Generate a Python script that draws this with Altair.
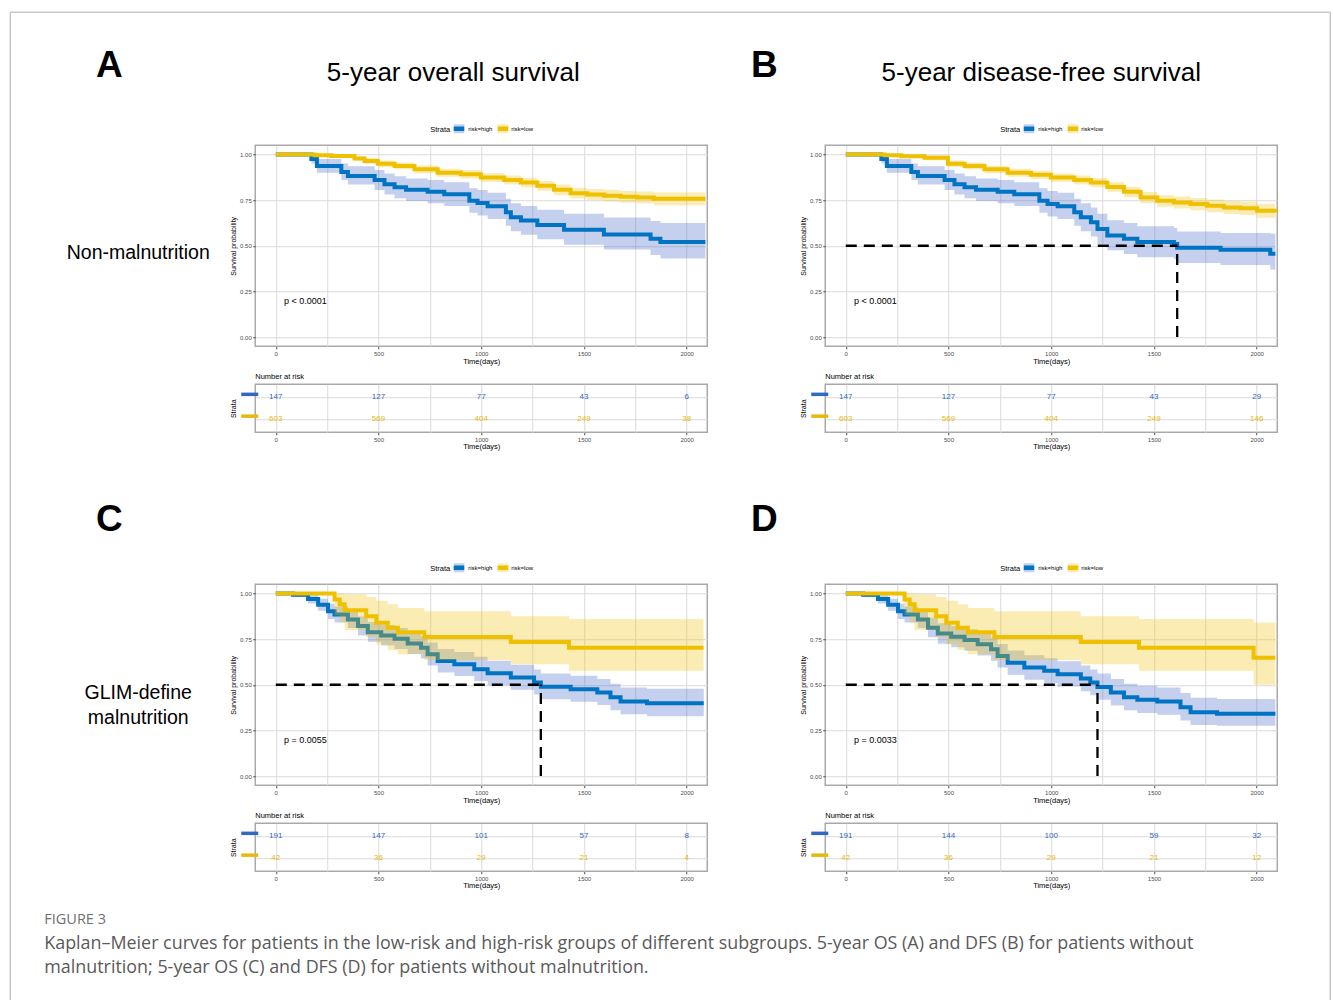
import altair as alt
import pandas as pd

# ---------------- data ----------------
STRATA = ["risk=high", "risk=low"]
LINE_COLORS = ["#0073C2", "#EFC000"]
BAND_COLORS = ["#3D62C8", "#EFC000"]
TABLE_COLORS = ["#3069C3", "#E8B80A"]

GRID_X = [0, 250, 500, 750, 1000, 1250, 1500, 1750, 2000]
GRID_Y = [0, 0.125, 0.25, 0.375, 0.5, 0.625, 0.75, 0.875, 1.0]
RISK_TIMES = [0, 500, 1000, 1500, 2000]

# Panel A: 5-year OS, non-malnutrition
A_high_t = [0, 173, 200, 319, 351, 481, 529, 578, 634, 739, 820, 942, 982, 1031, 1120, 1144, 1193, 1273, 1403, 1597, 1824, 1872, 2091]
A_high_s = [1.0, 0.975, 0.937, 0.904, 0.882, 0.86, 0.837, 0.82, 0.806, 0.795, 0.782, 0.746, 0.734, 0.716, 0.683, 0.656, 0.638, 0.614, 0.587, 0.562, 0.538, 0.52, 0.52]
A_high_up = [1.0, 1.0, 0.975, 0.95, 0.935, 0.915, 0.895, 0.88, 0.868, 0.86, 0.848, 0.815, 0.805, 0.79, 0.757, 0.733, 0.717, 0.697, 0.675, 0.655, 0.635, 0.625, 0.625]
A_high_lo = [1.0, 0.95, 0.90, 0.86, 0.835, 0.805, 0.78, 0.76, 0.745, 0.733, 0.718, 0.68, 0.666, 0.647, 0.61, 0.58, 0.56, 0.535, 0.505, 0.48, 0.45, 0.43, 0.43]
A_low_t = [0, 189, 270, 383, 432, 497, 578, 675, 788, 901, 998, 1112, 1193, 1273, 1354, 1435, 1516, 1597, 1678, 1759, 1840, 2091]
A_low_s = [1.0, 0.995, 0.991, 0.978, 0.964, 0.949, 0.937, 0.918, 0.90, 0.891, 0.873, 0.86, 0.846, 0.828, 0.806, 0.788, 0.78, 0.774, 0.768, 0.764, 0.757, 0.757]
A_low_up = [1.0, 1.0, 1.0, 0.99, 0.98, 0.967, 0.956, 0.939, 0.922, 0.914, 0.897, 0.885, 0.872, 0.855, 0.835, 0.818, 0.811, 0.806, 0.8, 0.797, 0.792, 0.792]
A_low_lo = [1.0, 0.989, 0.982, 0.965, 0.948, 0.931, 0.918, 0.897, 0.878, 0.868, 0.849, 0.835, 0.82, 0.801, 0.777, 0.758, 0.749, 0.742, 0.736, 0.731, 0.722, 0.722]
A_risk_high = [147, 127, 77, 43, 6]
A_risk_low = [603, 569, 404, 249, 38]

# Panel B: 5-year DFS, non-malnutrition
B_high_t = [0, 173, 200, 319, 351, 481, 529, 578, 634, 739, 820, 942, 982, 1031, 1112, 1144, 1193, 1225, 1273, 1354, 1419, 1597, 1613, 1824, 2066, 2091]
B_high_s = [1.0, 0.975, 0.937, 0.904, 0.882, 0.86, 0.837, 0.82, 0.806, 0.795, 0.782, 0.746, 0.728, 0.716, 0.683, 0.656, 0.629, 0.592, 0.556, 0.538, 0.52, 0.51, 0.489, 0.478, 0.456, 0.456]
B_high_up = [1.0, 1.0, 0.975, 0.95, 0.935, 0.915, 0.895, 0.88, 0.868, 0.86, 0.848, 0.815, 0.8, 0.79, 0.757, 0.733, 0.71, 0.675, 0.64, 0.625, 0.607, 0.597, 0.578, 0.57, 0.565, 0.565]
B_high_lo = [1.0, 0.95, 0.90, 0.86, 0.835, 0.805, 0.78, 0.76, 0.745, 0.733, 0.718, 0.68, 0.66, 0.647, 0.61, 0.58, 0.55, 0.51, 0.475, 0.455, 0.437, 0.427, 0.405, 0.395, 0.37, 0.37]
B_low_t = [0, 189, 270, 383, 497, 578, 675, 788, 901, 998, 1112, 1193, 1273, 1354, 1435, 1516, 1597, 1678, 1759, 1840, 1921, 2002, 2091]
B_low_s = [1.0, 0.995, 0.99, 0.982, 0.949, 0.937, 0.918, 0.90, 0.888, 0.873, 0.86, 0.846, 0.822, 0.795, 0.764, 0.746, 0.737, 0.728, 0.719, 0.71, 0.705, 0.692, 0.683]
B_low_up = [1.0, 1.0, 1.0, 0.994, 0.966, 0.955, 0.938, 0.921, 0.91, 0.896, 0.884, 0.871, 0.848, 0.823, 0.794, 0.777, 0.769, 0.761, 0.753, 0.745, 0.741, 0.73, 0.725]
B_low_lo = [1.0, 0.989, 0.982, 0.968, 0.931, 0.918, 0.897, 0.878, 0.865, 0.849, 0.835, 0.82, 0.795, 0.766, 0.733, 0.714, 0.704, 0.694, 0.684, 0.674, 0.668, 0.653, 0.64]
B_risk_high = [147, 127, 77, 43, 29]
B_risk_low = [603, 569, 404, 249, 146]

# Panel C: 5-year OS, GLIM-defined malnutrition
C_high_t = [0, 84, 157, 206, 254, 286, 351, 400, 448, 513, 578, 642, 707, 739, 788, 869, 966, 1031, 1144, 1257, 1290, 1435, 1565, 1629, 1678, 1807, 2083]
C_high_s = [1.0, 0.993, 0.969, 0.938, 0.902, 0.884, 0.857, 0.821, 0.788, 0.77, 0.752, 0.726, 0.703, 0.667, 0.63, 0.612, 0.585, 0.563, 0.54, 0.513, 0.489, 0.476, 0.458, 0.431, 0.409, 0.399, 0.399]
C_high_up = [1.0, 1.0, 0.99, 0.97, 0.943, 0.928, 0.905, 0.873, 0.843, 0.827, 0.81, 0.786, 0.765, 0.731, 0.696, 0.679, 0.653, 0.632, 0.61, 0.584, 0.561, 0.549, 0.532, 0.506, 0.485, 0.478, 0.478]
C_high_lo = [1.0, 0.98, 0.945, 0.905, 0.86, 0.84, 0.81, 0.77, 0.735, 0.715, 0.695, 0.668, 0.643, 0.605, 0.567, 0.548, 0.52, 0.497, 0.473, 0.446, 0.421, 0.407, 0.389, 0.361, 0.339, 0.328, 0.328]
C_low_t = [0, 286, 311, 335, 440, 489, 545, 594, 723, 1144, 1427, 2082]
C_low_s = [1.0, 0.966, 0.94, 0.908, 0.875, 0.839, 0.812, 0.788, 0.761, 0.734, 0.703, 0.703]
C_low_up = [1.0, 1.0, 1.0, 0.995, 0.98, 0.96, 0.94, 0.92, 0.902, 0.875, 0.86, 0.86]
C_low_lo = [1.0, 0.88, 0.84, 0.8, 0.76, 0.72, 0.69, 0.667, 0.636, 0.612, 0.576, 0.576]
C_risk_high = [191, 147, 101, 57, 8]
C_risk_low = [42, 36, 29, 21, 4]

# Panel D: 5-year DFS, GLIM-defined malnutrition
D_high_t = [0, 84, 157, 206, 254, 286, 351, 400, 448, 513, 578, 642, 707, 739, 788, 869, 966, 1031, 1144, 1190, 1225, 1290, 1354, 1419, 1516, 1629, 1678, 1807, 2091]
D_high_s = [1.0, 0.993, 0.969, 0.938, 0.902, 0.884, 0.857, 0.812, 0.78, 0.763, 0.745, 0.721, 0.694, 0.658, 0.621, 0.594, 0.576, 0.558, 0.534, 0.512, 0.488, 0.458, 0.431, 0.418, 0.408, 0.377, 0.35, 0.341, 0.341]
D_high_up = [1.0, 1.0, 0.99, 0.97, 0.943, 0.928, 0.905, 0.866, 0.837, 0.821, 0.804, 0.782, 0.757, 0.723, 0.688, 0.662, 0.645, 0.628, 0.605, 0.584, 0.561, 0.532, 0.506, 0.494, 0.485, 0.455, 0.429, 0.422, 0.422]
D_high_lo = [1.0, 0.98, 0.945, 0.905, 0.86, 0.84, 0.81, 0.76, 0.725, 0.705, 0.686, 0.66, 0.632, 0.594, 0.555, 0.527, 0.508, 0.49, 0.465, 0.442, 0.418, 0.387, 0.36, 0.346, 0.336, 0.304, 0.28, 0.275, 0.275]
D_low_t = [0, 286, 311, 335, 440, 489, 545, 594, 723, 1144, 1427, 1985, 2091]
D_low_s = [1.0, 0.966, 0.94, 0.908, 0.875, 0.839, 0.812, 0.788, 0.761, 0.734, 0.703, 0.648, 0.648]
D_low_up = [1.0, 1.0, 1.0, 0.995, 0.98, 0.96, 0.94, 0.92, 0.902, 0.875, 0.86, 0.84, 0.84]
D_low_lo = [1.0, 0.88, 0.84, 0.8, 0.76, 0.72, 0.69, 0.667, 0.636, 0.612, 0.576, 0.50, 0.50]
D_risk_high = [191, 144, 100, 59, 32]
D_risk_low = [42, 36, 29, 21, 12]

PVALS = ["p < 0.0001", "p < 0.0001", "p = 0.0055", "p = 0.0033"]
TITLES = ["5-year overall survival", "5-year disease-free survival"]
ROW_LABELS = [["Non-malnutrition"], ["GLIM-define", "malnutrition"]]
LETTERS = ["A", "B", "C", "D"]
CAPTION_HEAD = "FIGURE 3"
CAPTION_LINES = [
    "Kaplan\u2013Meier curves for patients in the low-risk and high-risk groups of different subgroups. 5-year OS (A) and DFS (B) for patients without",
    "malnutrition; 5-year OS (C) and DFS (D) for patients without malnutrition.",
]

# ---------------- styling ----------------
FONT = "Liberation Sans"
CAP_FONT = "Open Sans"
W, H, TH = 452, 201, 48
GRID_COLOR = "#dadada"
TXT_GREY = "#4d4d4d"

one_row = pd.DataFrame({"k": [0]})


def note(x, y, text, size, weight="normal", align="center", font=FONT, color="black"):
    return alt.Chart(one_row).mark_text(
        font=font, fontSize=size, fontWeight=weight, align=align, baseline="alphabetic", color=color
    ).encode(x=alt.value(x), y=alt.value(y), text=alt.value(text))


def frame_rule(x, y, x2=None, y2=None):
    enc = {"x": alt.value(x), "y": alt.value(y)}
    if x2 is not None:
        enc["x2"] = alt.value(x2)
    if y2 is not None:
        enc["y2"] = alt.value(y2)
    return alt.Chart(one_row).mark_rule(color="#c8c8c8", strokeWidth=1.5).encode(**enc)


def legend_layers():
    """Strata key drawn above the plot area (ggplot-style top legend)."""
    out = [note(175, -13.6, "Strata", 7.5, align="left")]
    key_x = [198.5, 242.5]
    lab_x = [213, 256]
    for i, s in enumerate(STRATA):
        out.append(alt.Chart(one_row).mark_rect(color=BAND_COLORS[i], opacity=0.3).encode(
            x=alt.value(key_x[i]), x2=alt.value(key_x[i] + 10.5), y=alt.value(-21), y2=alt.value(-12)))
        out.append(alt.Chart(one_row).mark_rule(color=LINE_COLORS[i], strokeWidth=4.5).encode(
            x=alt.value(key_x[i]), x2=alt.value(key_x[i] + 10.5), y=alt.value(-16.5)))
        out.append(note(lab_x[i], -14.2, s, 6, align="left"))
    return out


x_scale = alt.Scale(domain=[-100, 2100], nice=False, zero=False)
major_x = "datum.value % 500 === 0"


def x_axis(title_pad):
    return alt.Axis(
        values=GRID_X, format="d", labelExpr=f"{major_x} ? datum.label : ''",
        tickOpacity={"condition": {"test": major_x, "value": 1}, "value": 0},
        grid=True, gridColor=GRID_COLOR, gridWidth=1, domain=False,
        tickSize=2.5, tickColor=TXT_GREY, labelFontSize=6, labelColor=TXT_GREY, labelFont=FONT,
        labelPadding=1.5, title="Time(days)", titleFont=FONT, titleFontSize=7.5,
        titleFontWeight="normal", titlePadding=title_pad,
    )


def km_panel(curves, pval, notes):
    major_y = "datum.value % 0.25 === 0"
    y_axis = alt.Axis(
        values=GRID_Y, format=".2f", labelExpr=f"{major_y} ? datum.label : ''",
        tickOpacity={"condition": {"test": major_y, "value": 1}, "value": 0},
        grid=True, gridColor=GRID_COLOR, gridWidth=1, domain=False,
        tickSize=2.5, tickColor=TXT_GREY, labelFontSize=6, labelColor=TXT_GREY, labelFont=FONT,
        labelPadding=1.5, title="Survival probability", titleFont=FONT, titleFontSize=7,
        titleFontWeight="normal", titlePadding=3,
    )
    y_scale = alt.Scale(domain=[-0.05, 1.05], nice=False, zero=False)
    layers = []
    high_t, high_s = curves[0][0], curves[0][1]
    for i, (t, s, lo, up) in enumerate(curves):
        df = pd.DataFrame({"t": t, "s": s, "lo": lo, "up": up, "strata": STRATA[i]})
        band = alt.Chart(df).mark_area(interpolate="step-after", opacity=0.3).encode(
            x=alt.X("t:Q", scale=x_scale, axis=x_axis(1)),
            y=alt.Y("lo:Q", scale=y_scale, axis=y_axis),
            y2="up:Q",
            fill=alt.Fill("strata:N", scale=alt.Scale(domain=STRATA, range=BAND_COLORS), legend=None),
        )
        line = alt.Chart(df).mark_line(interpolate="step-after", strokeWidth=4).encode(
            x="t:Q", y="s:Q",
            color=alt.Color("strata:N", scale=alt.Scale(domain=STRATA, range=LINE_COLORS), legend=None),
        )
        layers += [band, line]
    # median survival of the high-risk group (if reached)
    med = next((tt for tt, ss in zip(high_t, high_s) if ss <= 0.5), None)
    if med is not None:
        hdf = pd.DataFrame({"x0": [0], "x1": [med], "y": [0.5]})
        vdf = pd.DataFrame({"x": [med], "y0": [0.0], "y1": [0.5]})
        layers.append(alt.Chart(hdf).mark_rule(color="black", strokeWidth=2.3, strokeDash=[11, 7]).encode(
            x="x0:Q", x2="x1:Q", y="y:Q"))
        layers.append(alt.Chart(vdf).mark_rule(color="black", strokeWidth=2.3, strokeDash=[11, 7]).encode(
            x="x:Q", y="y0:Q", y2="y1:Q"))
    pdf = pd.DataFrame({"t": [40], "s": [0.2], "label": [pval]})
    layers.append(alt.Chart(pdf).mark_text(align="left", baseline="middle", font=FONT, fontSize=9).encode(
        x="t:Q", y="s:Q", text="label:N"))
    layers += legend_layers()
    layers += notes
    return alt.layer(*layers).properties(width=W, height=H)


def table_panel(high, low, notes):
    df = pd.DataFrame({
        "t": RISK_TIMES * 2,
        "strata": [STRATA[0]] * 5 + [STRATA[1]] * 5,
        "n": high + low,
    })
    y_enc = alt.Y("strata:N", scale=alt.Scale(type="point", domain=STRATA, padding=0.6),
                  axis=alt.Axis(labels=False, ticks=False, domain=False, grid=True, gridColor=GRID_COLOR,
                                title="Strata", titleFont=FONT, titleFontSize=7, titleFontWeight="normal",
                                titlePadding=19))
    col = alt.Color("strata:N", scale=alt.Scale(domain=STRATA, range=TABLE_COLORS), legend=None)
    txt = alt.Chart(df).mark_text(font=FONT, fontSize=8, baseline="middle").encode(
        x=alt.X("t:Q", scale=x_scale, axis=x_axis(0.5)), y=y_enc, text="n:Q", color=col)
    keys_df = pd.DataFrame({"strata": STRATA})
    key_col = alt.Color("strata:N", scale=alt.Scale(domain=STRATA, range=LINE_COLORS), legend=None)
    keys = alt.Chart(keys_df).mark_rule(strokeWidth=3.5).encode(
        x=alt.value(-14), x2=alt.value(3), y=y_enc, color=key_col, yOffset=alt.value(-3))
    head = note(0, -5, "Number at risk", 7.5, align="left")
    return alt.layer(txt, keys, head, *notes).properties(width=W, height=TH)


def spacer():
    return alt.Chart(one_row).mark_point(opacity=0).encode(
        x=alt.value(0), y=alt.value(0)
    ).properties(width=W, height=76, view=alt.ViewBackground(stroke="transparent"))


def curves_of(p):
    g = globals()
    return [
        (g[f"{p}_high_t"], g[f"{p}_high_s"], g[f"{p}_high_lo"], g[f"{p}_high_up"]),
        (g[f"{p}_low_t"], g[f"{p}_low_s"], g[f"{p}_low_lo"], g[f"{p}_low_up"]),
    ]


# annotations (pixel offsets relative to each panel's plot area)
notes_A = [
    frame_rule(-245, -133, x2=1075),
    frame_rule(-245, -133, y2=856),
    frame_rule(1075, -133, y2=856),
    note(-146, -68, LETTERS[0], 37, weight="bold"),
    note(198, -64, TITLES[0], 26),
    note(-117, 114, ROW_LABELS[0][0], 19.5),
]
notes_B = [
    note(-61, -68, LETTERS[1], 37, weight="bold"),
    note(216, -64, TITLES[1], 26),
]
notes_C = [
    note(-146, -53, LETTERS[2], 37, weight="bold"),
    note(-117, 115, ROW_LABELS[1][0], 19.5),
    note(-117, 140, ROW_LABELS[1][1], 19.5),
]
notes_D = [
    note(-61, -53, LETTERS[3], 37, weight="bold"),
]
notes_tC = [
    note(-211, 101, CAPTION_HEAD, 14.5, align="left", font=CAP_FONT, color="#6f6f6f"),
    note(-211, 126, CAPTION_LINES[0], 17.9, align="left", font=CAP_FONT, color="#5a5a5a"),
    note(-211, 150, CAPTION_LINES[1], 17.9, align="left", font=CAP_FONT, color="#5a5a5a"),
]

kmA = km_panel(curves_of("A"), PVALS[0], notes_A)
kmB = km_panel(curves_of("B"), PVALS[1], notes_B)
kmC = km_panel(curves_of("C"), PVALS[2], notes_C)
kmD = km_panel(curves_of("D"), PVALS[3], notes_D)
tA = table_panel(A_risk_high, A_risk_low, [])
tB = table_panel(B_risk_high, B_risk_low, [])
tC = table_panel(C_risk_high, C_risk_low, notes_tC)
tD = table_panel(D_risk_high, D_risk_low, [])

chart = alt.concat(
    kmA, kmB, tA, tB, spacer(), spacer(), kmC, kmD, tC, tD,
    columns=2, spacing={"row": 38, "column": 118}, bounds="flush", align="each",
).resolve_scale(color="independent", fill="independent").properties(
    padding={"left": 8.25, "top": 10.25, "right": 0, "bottom": 0},
    background="white",
).configure_view(stroke="#a9a9a9", strokeWidth=1.5)

chart.save("out.html", embed_options={"renderer": "svg", "actions": False})
